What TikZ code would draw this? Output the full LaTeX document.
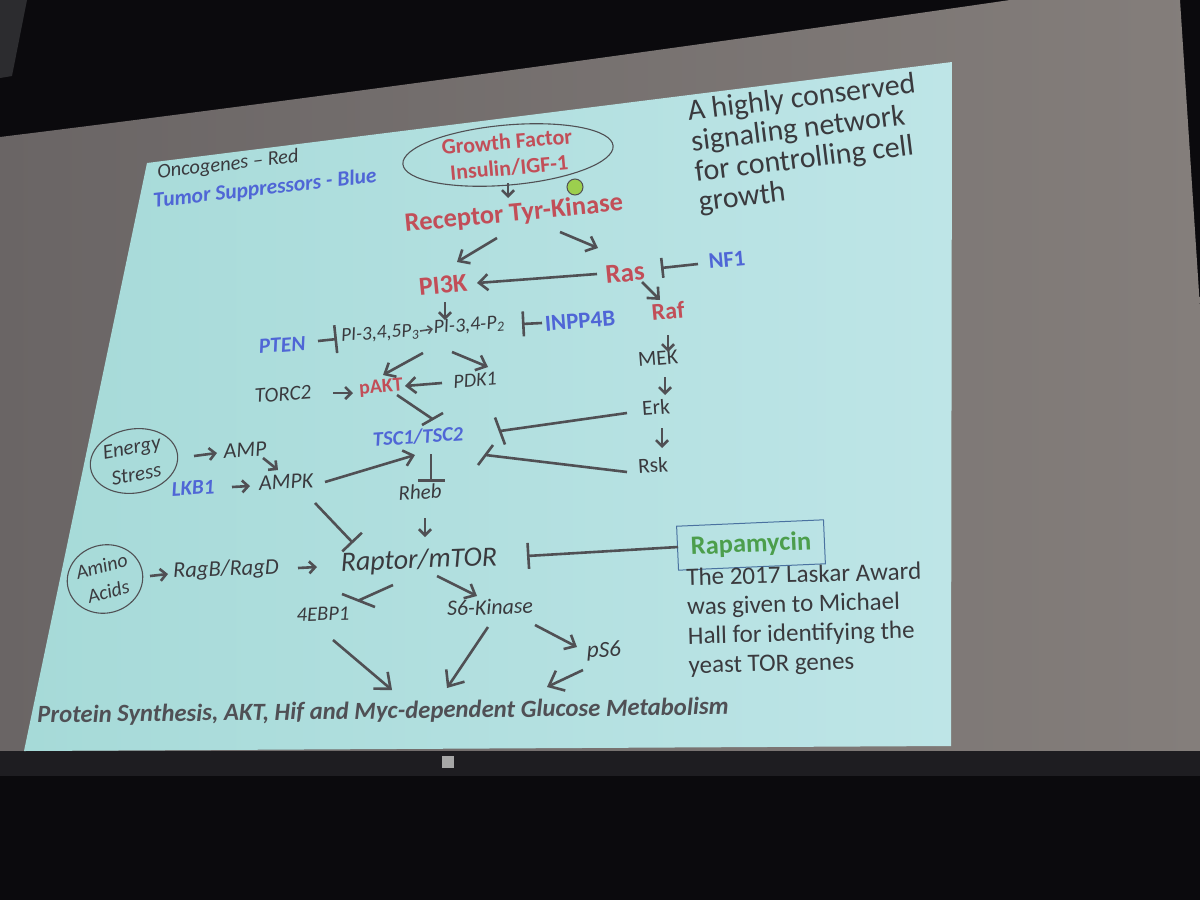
\documentclass[tikz,border=0pt]{standalone}
\usepackage{fontspec}
\setmainfont{Carlito}
\usetikzlibrary{arrows.meta,shapes.geometric,calc}
\definecolor{bgblack}{HTML}{0B0A0D}
\definecolor{panelc}{HTML}{2C2C2F}
\definecolor{scrL}{HTML}{6A6565}
\definecolor{scrR}{HTML}{847E7B}
\definecolor{stripc}{HTML}{1E1D21}
\definecolor{slideL}{HTML}{A6DAD8}
\definecolor{slideR}{HTML}{BEE5E7}
\definecolor{txtc}{HTML}{3A3A3E}
\definecolor{lnc}{HTML}{505054}
\definecolor{oncc}{HTML}{C24E58}
\definecolor{tsgc}{HTML}{4F66D6}
\definecolor{rapc}{HTML}{4C9E4C}
\definecolor{boxc}{HTML}{4A72A0}
\definecolor{dotc}{HTML}{9CCF4E}
\definecolor{botc}{HTML}{505055}
\newcommand{\myfs}[2]{\fontsize{#1}{#2}\selectfont}
\begin{document}
\begin{tikzpicture}[x=1pt,y=-1pt,
  lblit/.style={inner sep=0pt, text=txtc, font=\itshape\myfs{#1}{#1}},
  lblup/.style={inner sep=0pt, text=txtc, font=\myfs{#1}{#1}},
  lblonc/.style={inner sep=0pt, text=oncc, font=\bfseries\myfs{#1}{#1}},
  lbltsg/.style={inner sep=0pt, text=tsgc, font=\bfseries\itshape\myfs{#1}{#1}},
  lbltsgup/.style={inner sep=0pt, text=tsgc, font=\bfseries\myfs{#1}{#1}},
  ln/.style={draw=lnc, line width=2.6pt},
  arr/.style={ln, -{Straight Barb[length=6pt,width=12pt]}},
  marr/.style={ln, -{Straight Barb[length=9pt,width=16pt]}},
  barr/.style={ln, -{Straight Barb[length=13pt,width=22pt]}},
  inh/.style={ln, -{Bar[width=#1]}},
  oval/.style={ellipse, draw=lnc, line width=1.1pt, inner sep=0pt, align=center}
]
\useasboundingbox (0,0) rectangle (1200,900);
% room and screen
\fill[bgblack] (0,0) rectangle (1200,900);
\fill[panelc] (0,0) -- (27,0) -- (12,76) -- (0,78) -- cycle;
\shade[left color=scrL, right color=scrR] (0,137) .. controls (300,100) and (700,45) .. (1010,0) -- (1180,0) -- (1200,308) -- (1200,751) -- (0,751) -- cycle;
\fill[stripc] (0,751) rectangle (1200,776);
\fill[gray!70] (442,756) rectangle (454,768);
% slide
\shade[left color=slideL, right color=slideR] (147,163) -- (952,62) -- (951,746) -- (24,751) -- cycle;

% legend
\node[lblit=20.5, rotate=6.5] (leg1) at (228,165) {Oncogenes – Red};
\node[lbltsg=21.5, rotate=6.5] (leg2) at (265,189) {Tumor Suppressors - Blue};

% description
\node[inner sep=0pt, text=txtc, font=\myfs{30}{30.5}, align=left, anchor=north west, rotate=7] (desc) at (686,100) {A highly conserved\\signaling network\\for controlling cell\\growth};

% top part
\node[oval, minimum width=211, minimum height=60, rotate=5, text=oncc, font=\bfseries\myfs{22}{26}] (gf) at (508,155) {Growth Factor\\Insulin/IGF-1};
\node[circle, fill=dotc, draw=lnc, line width=1pt, minimum size=16, inner sep=0pt] (dot) at (575,187) {};
\node[lblonc=26.5, rotate=5.5] (rtk) at (514,214) {Receptor Tyr-Kinase};
\node[lblonc=26, rotate=5.5] (pi3k) at (443,285) {PI3K};
\node[lblonc=27, rotate=5.5] (ras) at (625,273) {Ras};
\node[lbltsgup=22.5, rotate=5] (nf1) at (727,260) {NF1};
\node[lblonc=24, rotate=5] (raf) at (668,311) {Raf};
\node[lblit=19.5, rotate=4.5] (pip3) at (380,334) {PI-3,4,5P\textsubscript{3}};
\node[lblit=20, rotate=4.5] (pip2) at (469,326) {PI-3,4-P\textsubscript{2}};
\node[lbltsg=21.5, rotate=4.5] (pten) at (282,345) {PTEN};
\node[lbltsgup=23, rotate=4.5] (inpp) at (580,321) {INPP4B};
\node[lblup=21.5, rotate=4.5] (mek) at (658,358) {MEK};
\node[lblit=20, rotate=4.5] (pdk1) at (475,380) {PDK1};
\node[lblonc=20, rotate=4.5] (pakt) at (381,388) {pAKT};
\node[lblit=21, rotate=4.5] (torc2) at (283,394) {TORC2};
\node[lblup=21.5, rotate=4] (erk) at (656,407) {Erk};
\node[lbltsg=20.5, rotate=4] (tsc) at (418,437) {TSC1/TSC2};
\node[lblup=21.5, rotate=3.5] (rsk) at (653,465) {Rsk};
\node[lblit=22, rotate=4] (amp) at (245,450) {AMP};
\node[lblit=22, rotate=3.5] (ampk) at (286,482) {AMPK};
\node[oval, minimum width=88, minimum height=64, rotate=10, text=txtc, font=\itshape\myfs{21}{27}] (energy) at (134,461) {Energy\\Stress};
\node[lbltsg=21, rotate=3.5] (lkb1) at (193,488) {LKB1};
\node[lblit=21, rotate=3.5] (rheb) at (420,492) {Rheb};

% lower part
\node[lblit=28, rotate=2] (raptor) at (419,561) {Raptor/mTOR};
\node[oval, minimum width=76, minimum height=68, rotate=15, text=txtc, font=\itshape\myfs{20}{26}] (amino) at (105,579) {Amino\\Acids};
\node[lblit=22.5, rotate=2] (rag) at (226,570) {RagB/RagD};
\node[lblit=20.5, rotate=2] (ebp) at (323,614) {4EBP1};
\node[lblit=22, rotate=2] (s6k) at (490,607) {S6-Kinase};
\node[lblit=23, rotate=1.5] (ps6) at (604,651) {pS6};
\node[draw=boxc, line width=1pt, minimum width=147, minimum height=44, inner sep=0pt, rotate=2.5, text=rapc, font=\bfseries\myfs{26.5}{26.5}] (rapa) at (751,545) {Rapamycin};
\node[inner sep=0pt, text=txtc, font=\myfs{25}{29.3}, align=left, anchor=north west, rotate=1.5] (laskar) at (686,568) {The 2017 Laskar Award\\was given to Michael\\Hall for identifying the\\yeast TOR genes};
\node[inner sep=0pt, text=botc, font=\bfseries\itshape\myfs{24.7}{24.7}, rotate=0.7] (bottom) at (383,712) {Protein Synthesis, AKT, Hif and Myc-dependent Glucose Metabolism};

% connectors
\draw[arr] ($(gf)+(0,28)$) -- ($(rtk)+(-6,-16)$);
\draw[marr] ($(rtk)+(-17,24)$) -- ($(pi3k)+(14,-23)$);
\draw[marr] ($(rtk)+(46,18)$) -- ($(ras)+(-27,-25)$);
\draw[marr] ($(ras)+(-28,1)$) -- ($(pi3k)+(34,-2)$);
\draw[inh=20pt] ($(nf1)+(-29,4)$) -- ($(ras)+(36,-5)$);
\draw[marr] ($(ras)+(17,9)$) -- ($(raf)+(-8,-11)$);
\draw[arr] ($(pi3k)+(2,17)$) -- ($(pip2)+(-24,-6)$);
\draw[ln, line width=1.6pt, -{Straight Barb[length=4pt,width=8pt]}] ($(pip3)+(40,-3)$) -- ($(pip2)+(-36,3)$);
\draw[inh=28pt] ($(pten)+(36,-4)$) -- ($(pip3)+(-43,5)$);
\draw[inh=25pt] ($(inpp)+(-38,2)$) -- ($(pip2)+(53,-2)$);
\draw[marr] ($(pip2)+(-46,27)$) -- ($(pakt)+(2,-13)$);
\draw[marr] ($(pip2)+(-17,26)$) -- ($(pdk1)+(13,-13)$);
\draw[marr] ($(pdk1)+(-33,3)$) -- ($(pakt)+(24,-2)$);
\draw[arr] ($(torc2)+(50,-1)$) -- ($(pakt)+(-28,5)$);
\draw[ln] ($(pakt)+(16,7)$) -- ($(tsc)+(14.5,-18)$) +(10.5,-6) -- +(-10.5,6);
\draw[arr] ($(raf)+(0,24)$) -- ($(mek)+(10,-6)$);
\draw[arr] ($(mek)+(7,19)$) -- ($(erk)+(9,-12)$);
\draw[arr] ($(erk)+(6,21)$) -- ($(rsk)+(9,-17)$);
\draw[ln] ($(erk)+(-29,6)$) -- ($(tsc)+(82,-6)$) +(-5,-13.5) -- +(5,13.5);
\draw[ln] ($(rsk)+(-26,7)$) -- ($(tsc)+(67.5,18)$) +(7.5,-10) -- +(-7.5,10);
\draw[marr] ($(ampk)+(39,0)$) -- ($(tsc)+(-3,18)$);
\draw[inh=27pt] ($(tsc)+(13,17)$) -- ($(rheb)+(11,-10)$);
\draw[arr] ($(amp)+(18,8)$) -- ($(ampk)+(-8,-12)$);
\draw[arr] ($(energy)+(60,-5)$) -- ($(amp)+(-28,3)$);
\draw[arr] ($(lkb1)+(39,-1)$) -- ($(ampk)+(-36,4)$);
\draw[inh=27pt] ($(ampk)+(29,21)$) -- ($(raptor)+(-66,-18)$);
\draw[arr] ($(rheb)+(5,26)$) -- ($(raptor)+(6,-24)$);
\draw[arr] ($(amino)+(45,-3)$) -- ($(rag)+(-58,4)$);
\draw[arr] ($(rag)+(72,-2)$) -- ($(raptor)+(-102,6)$);
\draw[inh=26pt] ($(rapa)+(-73,2)$) -- ($(raptor)+(108,-5)$);
\draw[ln] ($(raptor)+(-26,24)$) -- ($(ebp)+(35.5,-13.5)$) +(16.5,6.5) -- +(-16.5,-6.5);
\draw[marr] ($(raptor)+(18,15)$) -- ($(s6k)+(-13,-11)$);
\draw[marr] ($(s6k)+(45,18)$) -- ($(ps6)+(-27,-4)$);
\draw[barr] ($(ebp)+(10,26)$) -- ($(bottom)+(9,-22)$);
\draw[barr] ($(s6k)+(-2,20)$) -- ($(bottom)+(64,-24)$);
\draw[barr] ($(ps6)+(-21,19)$) -- ($(bottom)+(164,-25)$);
\end{tikzpicture}
\end{document}
